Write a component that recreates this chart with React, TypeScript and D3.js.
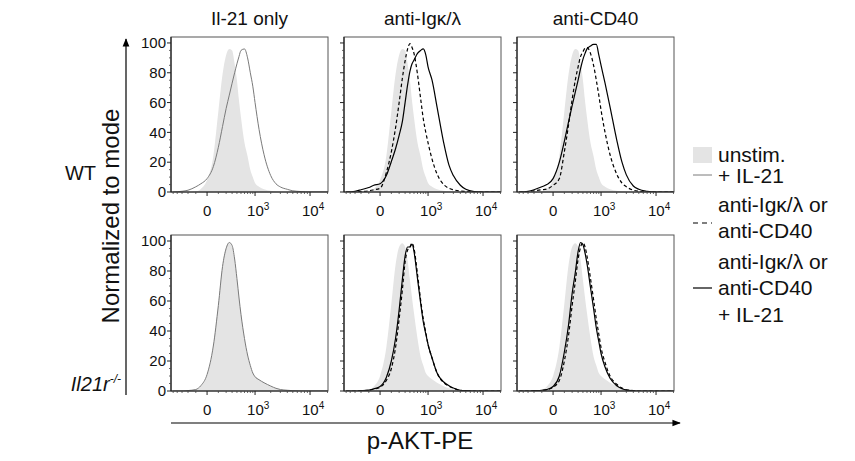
import React, { useEffect, useRef } from "react";
import * as d3 from "d3";

// fluorescence channel values (bin positions) shared by every histogram
const channels = [-500, -300, -200, -100, -50, 0, 50, 100, 150, 200, 250, 300, 350, 400, 450, 500, 600, 700, 800, 900, 1000, 1200, 1500, 2000, 2500, 3000, 4000, 5000, 7000, 10000, 15000, 20000];

// WT row (% of mode)
const wtUnstim = [0, 0, 0, 0.3, 2, 8, 24, 54, 79, 92, 96, 95, 86, 75, 61, 50, 33, 24, 15, 10, 6, 3.5, 1.8, 0.8, 0.3, 0, 0, 0, 0, 0, 0, 0];
const wtIL21 = [0, 0.5, 1.2, 3.5, 5.5, 9, 17, 30, 44, 56, 65, 73, 80, 86, 91, 95, 96, 90, 80, 71, 60, 42, 25, 11, 5.5, 3.4, 1.8, 0.8, 0.3, 0, 0, 0];
const wtIgDash = [0, 0, 0.3, 0.8, 1.5, 2.5, 13, 27, 43, 60, 76, 88, 96, 99.5, 97, 93, 79, 63, 49, 40, 33, 22, 12, 5, 2.5, 1.5, 0.6, 0.3, 0, 0, 0, 0];
const wtIgSolid = [0, 0.5, 1.5, 3, 4.5, 5.5, 11, 20.5, 29, 38, 47, 60, 72, 81, 86, 88.5, 93, 95, 96, 92, 84, 75, 57, 33, 18, 11, 4.5, 1.8, 0.3, 0, 0, 0];
const wtCdDash = [0, 0.3, 0.8, 1.5, 2, 4.5, 9, 27, 45, 62, 75, 84, 91, 94, 96.5, 97, 93, 85, 75, 65, 55, 40, 25, 12, 6, 3.5, 1.2, 0.5, 0, 0, 0, 0];
const wtCdSolid = [0, 0.5, 1.5, 3.5, 5, 9, 20, 34, 47, 58, 67, 75, 83, 89, 93, 96, 98, 99, 99, 92, 85, 73, 57, 35, 20, 11.5, 4, 1.8, 0.5, 0, 0, 0];

// Il21r-/- row
const koUnstim = [0, 0, 0.3, 0.8, 3, 10, 29, 58, 84, 96, 98.5, 96, 87, 74, 62, 52, 35, 23, 17, 12, 10, 7.8, 5.5, 3.2, 1.8, 1.1, 0.4, 0.2, 0, 0, 0, 0];
const koIL21 = [0, 0, 0.3, 1, 3.5, 11, 30, 57, 83, 95, 99, 97, 88, 75, 62, 51, 35, 24, 17, 12, 9.5, 7.5, 5.5, 3.3, 1.8, 1, 0.5, 0.2, 0, 0, 0, 0];
const koIgDash = [0, 0, 0.2, 0.5, 1.2, 2.5, 7, 15, 29, 48, 67, 86, 94, 96, 98.5, 95, 78, 61, 48, 39, 31, 22, 12, 5.5, 3.2, 1.8, 0.5, 0.2, 0, 0, 0, 0];
const koIgSolid = [0, 0, 0.2, 0.6, 1.5, 3, 9, 20, 35, 54, 74, 90, 96, 96, 98, 93, 75, 59, 46, 38, 31, 22, 12, 6, 3.5, 2, 0.5, 0.2, 0, 0, 0, 0];
const koCdDash = [0, 0, 0.2, 0.4, 0.8, 2.5, 7, 20, 37, 57, 73, 88, 96, 99, 96, 90, 75, 61, 48, 38, 29, 19, 10, 4.5, 2, 0.8, 0.3, 0, 0, 0, 0, 0];
const koCdSolid = [0, 0, 0.2, 0.5, 1, 3, 10, 26, 44, 65, 79, 93, 99, 97.5, 92, 85, 69, 55, 42, 33, 25, 16, 8.5, 3.5, 1.5, 0.6, 0.2, 0, 0, 0, 0, 0];

const panelTitles = ["Il-21 only", "anti-Igκ/λ", "anti-CD40"];
const yTicks = [0, 20, 40, 60, 80, 100];
const yMinor = [5, 10, 15, 25, 30, 35, 45, 50, 55, 65, 70, 75, 85, 90, 95];
const xMajor = [0, 1000, 10000];
const xMajorExp = ["", "3", "4"];
const xMinor = [-500, -400, -300, -200, -100, 100, 200, 300, 400, 500, 600, 700, 800, 900, 2000, 3000, 4000, 5000, 6000, 7000, 8000, 9000, 20000];

const FONT = "'Liberation Sans', Arial, sans-serif";

const panels = [
  { row: 0, col: 0, traces: [{ v: wtUnstim, k: "fill" }, { v: wtIL21, k: "gray" }] },
  { row: 0, col: 1, traces: [{ v: wtUnstim, k: "fill" }, { v: wtIgDash, k: "dash" }, { v: wtIgSolid, k: "solid" }] },
  { row: 0, col: 2, traces: [{ v: wtUnstim, k: "fill" }, { v: wtCdDash, k: "dash" }, { v: wtCdSolid, k: "solid" }] },
  { row: 1, col: 0, traces: [{ v: koUnstim, k: "fill" }, { v: koIL21, k: "gray" }] },
  { row: 1, col: 1, traces: [{ v: koUnstim, k: "fill" }, { v: koIgDash, k: "dash" }, { v: koIgSolid, k: "solid" }] },
  { row: 1, col: 2, traces: [{ v: koUnstim, k: "fill" }, { v: koCdDash, k: "dash" }, { v: koCdSolid, k: "solid" }] },
];

export default function App() {
  const ref = useRef<SVGSVGElement>(null);

  useEffect(() => {
    const svg = d3.select(ref.current);
    svg.selectAll("*").remove();

    const colLeft = [171, 344, 517];
    const panelW = 157;
    const rowTop = [37, 235];
    const rowBottom = [192, 391];

    const defs = svg.append("defs");
    defs.append("marker")
      .attr("id", "arrow")
      .attr("viewBox", "0 0 10 10")
      .attr("refX", 9).attr("refY", 5)
      .attr("markerWidth", 7).attr("markerHeight", 7)
      .attr("orient", "auto")
      .append("path").attr("d", "M0,1 L10,5 L0,9 Z").attr("fill", "#000");

    panels.forEach((p, i) => {
      const left = colLeft[p.col];
      const top = rowTop[p.row];
      const bottom = rowBottom[p.row];
      const x = d3.scaleSymlog().constant(180).domain([-560, 20400]).range([left, left + panelW]);
      const y = d3.scaleLinear().domain([0, 104]).range([bottom, top]);

      defs.append("clipPath").attr("id", "clip" + i)
        .append("rect").attr("x", left).attr("y", top).attr("width", panelW).attr("height", bottom - top);

      const g = svg.append("g");
      const plot = g.append("g").attr("clip-path", `url(#clip${i})`);

      const area = d3.area<number>()
        .x((d, j) => x(channels[j]))
        .y0(y(0))
        .y1((d) => y(d))
        .curve(d3.curveMonotoneX);
      const line = d3.line<number>()
        .x((d, j) => x(channels[j]))
        .y((d) => y(d))
        .curve(d3.curveMonotoneX);

      p.traces.forEach((t) => {
        if (t.k === "fill") {
          plot.append("path").attr("d", area(t.v)).attr("fill", "#e4e4e4");
        } else {
          plot.append("path").attr("d", line(t.v))
            .attr("fill", "none")
            .attr("stroke", t.k === "gray" ? "#7a7a7a" : "#000")
            .attr("stroke-width", t.k === "gray" ? 1 : 1.2)
            .attr("stroke-dasharray", t.k === "dash" ? "3.5,2.5" : null);
        }
      });

      // frame
      g.append("rect").attr("x", left).attr("y", top).attr("width", panelW).attr("height", bottom - top)
        .attr("fill", "none").attr("stroke", "#555").attr("stroke-width", 1);
      g.append("line").attr("x1", left).attr("x2", left).attr("y1", top).attr("y2", bottom)
        .attr("stroke", "#222").attr("stroke-width", 1.2);
      g.append("line").attr("x1", left).attr("x2", left + panelW).attr("y1", bottom).attr("y2", bottom)
        .attr("stroke", "#222").attr("stroke-width", 1.2);

      // y ticks
      yTicks.forEach((t) => {
        g.append("line").attr("x1", left - 4).attr("x2", left).attr("y1", y(t)).attr("y2", y(t))
          .attr("stroke", "#222");
        if (p.col === 0) {
          g.append("text").attr("x", left - 5).attr("y", y(t)).attr("dy", "0.35em")
            .attr("text-anchor", "end").attr("font-size", 15).attr("font-family", FONT)
            .attr("fill", "#111").text(t);
        }
      });
      yMinor.forEach((t) => {
        g.append("line").attr("x1", left - 2).attr("x2", left).attr("y1", y(t)).attr("y2", y(t))
          .attr("stroke", "#444").attr("stroke-width", 0.8);
      });

      // x ticks
      xMinor.forEach((t) => {
        g.append("line").attr("x1", x(t)).attr("x2", x(t)).attr("y1", bottom).attr("y2", bottom + 2)
          .attr("stroke", "#444").attr("stroke-width", 0.8);
      });
      xMajor.forEach((t, j) => {
        g.append("line").attr("x1", x(t)).attr("x2", x(t)).attr("y1", bottom).attr("y2", bottom + 4)
          .attr("stroke", "#222");
        const txt = g.append("text").attr("y", bottom + 24).attr("font-size", 15)
          .attr("font-family", FONT).attr("fill", "#111");
        if (j === 0) {
          txt.attr("x", x(t)).attr("text-anchor", "middle").text("0");
        } else {
          txt.attr("x", x(t) - 8);
          txt.append("tspan").text("10");
          txt.append("tspan").attr("font-size", 10).attr("dy", -6).text(xMajorExp[j]);
        }
      });

      if (p.row === 0) {
        svg.append("text").attr("x", left + panelW / 2).attr("y", 25)
          .attr("text-anchor", "middle").attr("font-size", 19).attr("font-family", FONT)
          .attr("fill", "#111").text(panelTitles[p.col]);
      }
    });

    // axis arrows
    svg.append("line").attr("x1", 126).attr("x2", 126).attr("y1", 395).attr("y2", 39)
      .attr("stroke", "#000").attr("stroke-width", 1.2).attr("marker-end", "url(#arrow)");
    svg.append("line").attr("x1", 171).attr("x2", 680).attr("y1", 423).attr("y2", 423)
      .attr("stroke", "#000").attr("stroke-width", 1.2).attr("marker-end", "url(#arrow)");

    svg.append("text").attr("transform", "translate(119,216) rotate(-90)")
      .attr("text-anchor", "middle").attr("font-size", 24).attr("font-family", FONT)
      .attr("fill", "#111").text("Normalized to mode");
    svg.append("text").attr("x", 420).attr("y", 449)
      .attr("text-anchor", "middle").attr("font-size", 24).attr("font-family", FONT)
      .attr("fill", "#111").text("p-AKT-PE");

    // row labels
    svg.append("text").attr("x", 96).attr("y", 180).attr("text-anchor", "end")
      .attr("font-size", 20).attr("font-family", FONT).attr("fill", "#111").text("WT");
    const ko = svg.append("text").attr("x", 121).attr("y", 391).attr("text-anchor", "end")
      .attr("font-size", 20).attr("font-family", FONT).attr("font-style", "italic").attr("fill", "#111");
    ko.append("tspan").text("Il21r");
    ko.append("tspan").attr("font-size", 12).attr("dy", -8).text("-/-");

    // legend
    const lg = svg.append("g").attr("font-family", FONT).attr("font-size", 21).attr("fill", "#111");
    lg.append("rect").attr("x", 693).attr("y", 147).attr("width", 19).attr("height", 16).attr("fill", "#e4e4e4");
    lg.append("text").attr("x", 718).attr("y", 162).text("unstim.");
    lg.append("line").attr("x1", 693).attr("x2", 712).attr("y1", 175).attr("y2", 175)
      .attr("stroke", "#7a7a7a").attr("stroke-width", 1);
    lg.append("text").attr("x", 718).attr("y", 183).text("+ IL-21");
    lg.append("line").attr("x1", 693).attr("x2", 712).attr("y1", 223).attr("y2", 223)
      .attr("stroke", "#000").attr("stroke-width", 1.2).attr("stroke-dasharray", "5,4");
    lg.append("text").attr("x", 718).attr("y", 212).text("anti-Igκ/λ or");
    lg.append("text").attr("x", 718).attr("y", 238).text("anti-CD40");
    lg.append("line").attr("x1", 693).attr("x2", 712).attr("y1", 288).attr("y2", 288)
      .attr("stroke", "#000").attr("stroke-width", 1.2);
    lg.append("text").attr("x", 718).attr("y", 269).text("anti-Igκ/λ or");
    lg.append("text").attr("x", 718).attr("y", 295).text("anti-CD40");
    lg.append("text").attr("x", 718).attr("y", 322).text("+ IL-21");
  }, []);

  return (
    <svg ref={ref} width={855} height={461}
      style={{ position: "absolute", left: 0, top: 0, background: "#fff" }} />
  );
}
